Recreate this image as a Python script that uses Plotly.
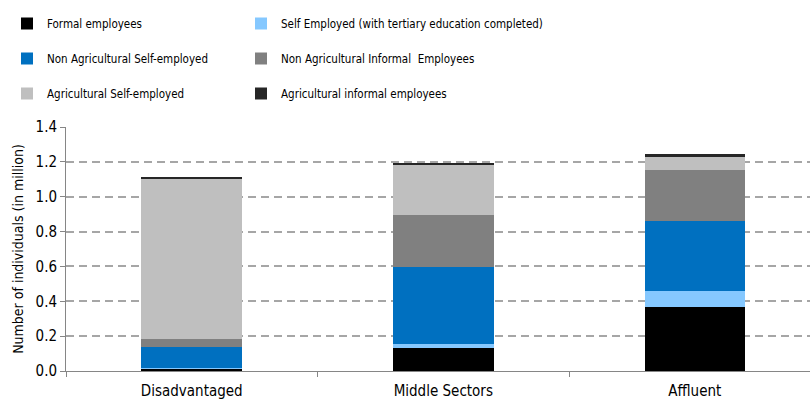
import plotly.graph_objects as go

categories = ["Disadvantaged", "Middle Sectors", "Affluent"]

formal_employees = [0.012, 0.131, 0.366]
self_employed_tertiary = [0.003, 0.022, 0.095]
non_ag_self_employed = [0.125, 0.446, 0.398]
non_ag_informal_employees = [0.042, 0.295, 0.295]
ag_self_employed = [0.924, 0.292, 0.073]
ag_informal_employees = [0.006, 0.007, 0.018]

series = [
    ("Formal employees", formal_employees, "#000000", "legend"),
    ("Self Employed (with tertiary education completed)", self_employed_tertiary, "#85C8FF", "legend2"),
    ("Non Agricultural Self-employed", non_ag_self_employed, "#0070C0", "legend"),
    ("Non Agricultural Informal  Employees", non_ag_informal_employees, "#808080", "legend2"),
    ("Agricultural Self-employed", ag_self_employed, "#BFBFBF", "legend"),
    ("Agricultural informal employees", ag_informal_employees, "#262626", "legend2"),
]

FONT = "DejaVu Sans Condensed, Liberation Sans, sans-serif"

fig = go.Figure()
for i, (name, vals, color, lg) in enumerate(series):
    fig.add_trace(go.Bar(
        x=categories, y=vals, name=name, marker=dict(color=color, line=dict(width=0)),
        width=0.4, legend=lg, legendgroup=f"g{i}",
    ))

L, W, T, H = 66, 744, 127, 244
def px_to_paper_x(px):
    return (px - L) / W
def px_to_paper_y(py):
    return (T + H - py) / H

legend_common = dict(
    orientation="v", xanchor="left", yanchor="top", bgcolor="rgba(0,0,0,0)",
    traceorder="grouped", tracegroupgap=16, itemwidth=30, borderwidth=0,
    font=dict(family=FONT, size=11.5, color="#000000"),
)

fig.update_layout(
    width=810, height=400,
    margin=dict(l=L, r=0, t=T, b=400 - T - H, pad=0, autoexpand=False),
    paper_bgcolor="white", plot_bgcolor="white",
    barmode="stack", bargap=0.6,
    font=dict(family=FONT, size=14, color="#000000"),
    showlegend=True,
    legend=dict(x=px_to_paper_x(7), y=px_to_paper_y(9), **legend_common),
    legend2=dict(x=px_to_paper_x(241), y=px_to_paper_y(9), **legend_common),
    xaxis=dict(
        range=[-0.5, 2.458], showline=True, linecolor="#868686", linewidth=1,
        ticks="outside", tickson="boundaries", ticklen=5, tickcolor="#868686",
        tickfont=dict(family=FONT, size=15, color="#000000"), showgrid=False,
        ticklabelstandoff=6, automargin=False,
    ),
    yaxis=dict(
        range=[0, 1.4], dtick=0.2, tickformat=".1f", showline=True, linecolor="#868686",
        linewidth=1, ticks="outside", ticklen=5, tickcolor="#868686",
        tickfont=dict(family=FONT, size=15, color="#000000"),
        showgrid=True, gridcolor="#A6A6A6", gridwidth=1.5, griddash="8px,5px",
        zeroline=False, automargin=False,
        title=dict(text="Number of individuals (in million)", font=dict(family=FONT, size=14, color="#000000"), standoff=8),
    ),
)

fig.write_html("out.html", config={"displayModeBar": False},
               post_script="document.body.style.margin='0';")
